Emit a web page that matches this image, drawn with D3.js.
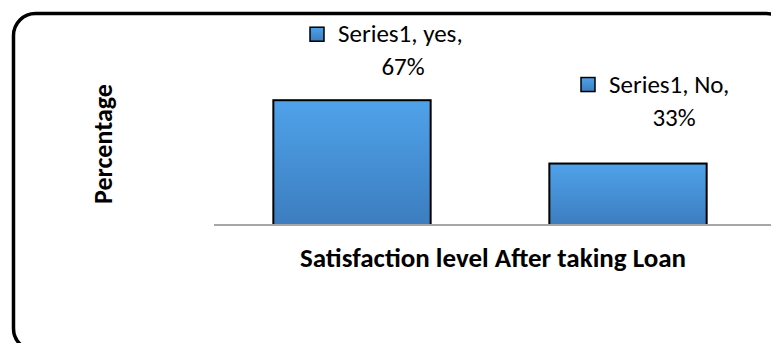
<!DOCTYPE html>
<html>
<head>
<meta charset="utf-8">
<script src="https://cdn.jsdelivr.net/npm/d3@7"></script>
<style>
  html, body { margin: 0; padding: 0; background: #fff; }
  svg { display: block; }
  text { font-family: Carlito, Calibri, Lato, "Liberation Sans", sans-serif; fill: #000; }
</style>
</head>
<body>
<svg id="chart" width="771" height="343"></svg>
<script>
// Survey result: satisfaction after taking a loan
const categories = ["yes", "No"];
const seriesName = "Series1";
const values = [67, 33];
const valueLabels = ["67%", "33%"];
const xTitle = "Satisfaction level After taking Loan";
const yTitle = "Percentage";

const W = 771, H = 343;
const svg = d3.select("#chart");

// gradient for the bar fill
const defs = svg.append("defs");
const grad = defs.append("linearGradient")
  .attr("id", "barFill").attr("x1", 0).attr("y1", 0).attr("x2", 0).attr("y2", 1);
grad.append("stop").attr("offset", "0%").attr("stop-color", "#4fa2ea");
grad.append("stop").attr("offset", "100%").attr("stop-color", "#3c7dbf");

// rounded chart frame (runs past the right and bottom edges)
svg.append("rect")
  .attr("x", 13.5).attr("y", 13.5)
  .attr("width", 775).attr("height", 337)
  .attr("rx", 22).attr("ry", 22)
  .attr("fill", "none").attr("stroke", "#000").attr("stroke-width", 3.5);

const plot = { left: 214, right: 766, top: 76, bottom: 225 };

const x = d3.scaleBand()
  .domain(categories)
  .range([plot.left, plot.right])
  .paddingInner(0.43).paddingOuter(0.215);

const y = d3.scaleLinear()
  .domain([0, 80])
  .range([plot.bottom, plot.top]);

// bars
svg.append("g").selectAll("rect")
  .data(categories)
  .join("rect")
  .attr("x", d => x(d))
  .attr("y", (d, i) => y(values[i]))
  .attr("width", x.bandwidth())
  .attr("height", (d, i) => y(0) - y(values[i]))
  .attr("fill", "url(#barFill)")
  .attr("stroke", "#000").attr("stroke-width", 2);

// category axis: plain grey baseline, no ticks or labels
const axis = d3.axisBottom(x).tickSize(0).tickFormat("");
const gAxis = svg.append("g")
  .attr("transform", `translate(0,${y(0)})`)
  .call(axis);
gAxis.select(".domain")
  .attr("d", `M${plot.left},0H${W}`)
  .attr("stroke", "#a6a6a6").attr("stroke-width", 2);

// data labels: legend key + "Series1, cat," on the first line, value below
const labelOffsets = [
  { dx: 51, dy: -25 },
  { dx: 46, dy: -38 }
];
const fs = 25, lineGap = 33, key = 14;
categories.forEach((c, i) => {
  const cx = x(c) + x.bandwidth() / 2 + labelOffsets[i].dx;
  const by = y(values[i]) + labelOffsets[i].dy;
  const g = svg.append("g");
  g.append("rect")
    .attr("x", cx - 93).attr("y", by - lineGap - key - 1)
    .attr("width", key).attr("height", key)
    .attr("fill", "url(#barFill)")
    .attr("stroke", "#000").attr("stroke-width", 1.5);
  g.append("text")
    .attr("font-size", fs)
    .attr("x", cx - 65).attr("y", by - lineGap)
    .text(`${seriesName}, ${c},`);
  g.append("text")
    .attr("font-size", fs)
    .attr("x", cx).attr("y", by)
    .attr("text-anchor", "middle")
    .text(valueLabels[i]);
});

// axis titles
svg.append("text")
  .attr("x", (298 + 688) / 2).attr("y", 267)
  .attr("text-anchor", "middle")
  .attr("font-size", 27).attr("font-weight", "bold")
  .text(xTitle);

svg.append("text")
  .attr("transform", `translate(112,${(83 + 205) / 2}) rotate(-90)`)
  .attr("text-anchor", "middle")
  .attr("font-size", 26).attr("font-weight", "bold")
  .text(yTitle);
</script>
</body>
</html>
